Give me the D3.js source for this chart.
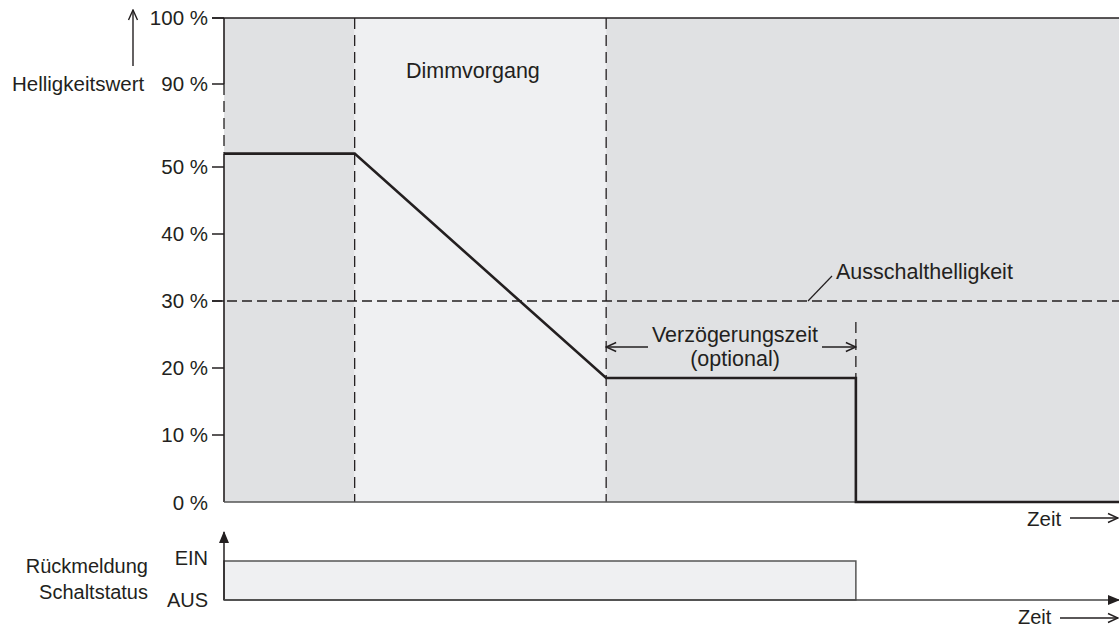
<!DOCTYPE html>
<html>
<head>
<meta charset="utf-8">
<script src="https://cdn.jsdelivr.net/npm/d3@7"></script>
<style>
  html, body { margin: 0; padding: 0; background: #fff; }
  text { font-family: "Liberation Sans", Arial, sans-serif; fill: #231f20; }
</style>
</head>
<body>
<div id="chart"></div>
<script>
// data
var yTicks      = [0, 10, 20, 30, 40, 50, 90, 100];
var yTickLabels = ["0 %", "10 %", "20 %", "30 %", "40 %", "50 %", "90 %", "100 %"];

// phases along time axis (0..100)
var phaseStart = [0, 14.6, 42.7];
var phaseEnd   = [14.6, 42.7, 100];
var phaseKind  = ["on", "dim", "off"];

// brightness curve
var curveTime  = [0, 14.6, 42.7, 70.6, 70.6, 100];
var curveValue = [52, 52, 18.5, 18.5, 0, 0];

var threshold = 30;          // Ausschalthelligkeit
var delayStart = 42.7, delayEnd = 70.6;  // Verzögerungszeit

// switching status feedback
var statusTime  = [0, 70.6];
var statusLevels = ["AUS", "EIN"];

var W = 1119, H = 629;
var ink = "#231f20";
var shade = {on: "#e0e1e3", dim: "#eff0f2", off: "#e0e1e3"};

var svg = d3.select("#chart").append("svg")
    .attr("width", W)
    .attr("height", H);

var x = d3.scaleLinear().domain([0, 100]).range([224, 1119]);
// broken brightness axis: linear up to the start level, then compressed up to 90
var breakAt = curveValue[0];
var perPct = (502 - 167) / 50;
var y = d3.scaleLinear()
    .domain([0, breakAt, 90, 100])
    .range([502, 502 - breakAt * perPct, 84, 18]);
var ys = d3.scalePoint().domain(statusLevels).range([600, 561]);

// markers
var defs = svg.append("defs");
defs.append("marker")
    .attr("id", "open")
    .attr("viewBox", "0 0 12 12")
    .attr("refX", 11).attr("refY", 6)
    .attr("markerWidth", 12).attr("markerHeight", 12)
    .attr("markerUnits", "userSpaceOnUse")
    .attr("orient", "auto-start-reverse")
  .append("path")
    .attr("d", "M1,1.5 L11,6 L1,10.5")
    .attr("fill", "none").attr("stroke", ink).attr("stroke-width", 1.4);
defs.append("marker")
    .attr("id", "solid")
    .attr("viewBox", "0 0 12 12")
    .attr("refX", 11).attr("refY", 6)
    .attr("markerWidth", 12).attr("markerHeight", 12)
    .attr("markerUnits", "userSpaceOnUse")
    .attr("orient", "auto")
  .append("path")
    .attr("d", "M0,1 L12,6 L0,11 Z")
    .attr("fill", ink);

// phase backgrounds
svg.append("g").selectAll("rect")
    .data(phaseKind)
    .enter().append("rect")
    .attr("x", function(d, i) { return x(phaseStart[i]); })
    .attr("width", function(d, i) { return x(phaseEnd[i]) - x(phaseStart[i]); })
    .attr("y", y(100))
    .attr("height", y(0) - y(100))
    .attr("fill", function(d) { return shade[d]; });

// phase boundaries (dashed)
svg.append("g").selectAll("line")
    .data(phaseStart.slice(1))
    .enter().append("line")
    .attr("x1", function(d) { return x(d); })
    .attr("x2", function(d) { return x(d); })
    .attr("y1", y(100)).attr("y2", y(0))
    .attr("stroke", ink).attr("stroke-width", 1.3)
    .attr("stroke-dasharray", "11,6");

// frame: top line + left axis (with break) + bottom
svg.append("line")
    .attr("x1", x(0) - 12).attr("x2", W)
    .attr("y1", y(100)).attr("y2", y(100))
    .attr("stroke", ink).attr("stroke-width", 1.6);
svg.append("line")
    .attr("x1", x(0)).attr("x2", x(0))
    .attr("y1", y(100)).attr("y2", y(90))
    .attr("stroke", ink).attr("stroke-width", 1.6);
svg.append("line")
    .attr("x1", x(0)).attr("x2", x(0))
    .attr("y1", y(90)).attr("y2", y(breakAt))
    .attr("stroke", ink).attr("stroke-width", 1.3)
    .attr("stroke-dasharray", "11,6");
svg.append("line")
    .attr("x1", x(0)).attr("x2", x(0))
    .attr("y1", y(breakAt)).attr("y2", y(0))
    .attr("stroke", ink).attr("stroke-width", 1.6);
svg.append("line")
    .attr("x1", x(0)).attr("x2", W)
    .attr("y1", y(0)).attr("y2", y(0))
    .attr("stroke", "#555").attr("stroke-width", 1.5);

// y ticks and labels
var tick = svg.append("g").selectAll("g")
    .data(yTicks)
    .enter().append("g")
    .attr("transform", function(d) { return "translate(" + x(0) + "," + y(d) + ")"; });
tick.filter(function(d) { return d > 0; }).append("line")
    .attr("x1", -12).attr("x2", 0)
    .attr("stroke", ink).attr("stroke-width", 1.5);
tick.append("text")
    .attr("x", -16)
    .attr("dy", function(d) { return d === 0 ? "0.4em" : "0.36em"; })
    .attr("text-anchor", "end")
    .style("font-size", "20.5px")
    .text(function(d, i) { return yTickLabels[i]; });

// y axis title with arrow
svg.append("line")
    .attr("x1", 133).attr("x2", 133)
    .attr("y1", 66).attr("y2", 10)
    .attr("stroke", ink).attr("stroke-width", 1.4)
    .attr("marker-end", "url(#open)");
svg.append("text")
    .attr("x", 12).attr("y", y(90))
    .attr("dy", "0.36em")
    .style("font-size", "20.5px")
    .text("Helligkeitswert");

// threshold line
svg.append("line")
    .attr("x1", x(0) - 12).attr("x2", W)
    .attr("y1", y(threshold)).attr("y2", y(threshold))
    .attr("stroke", ink).attr("stroke-width", 1.3)
    .attr("stroke-dasharray", "10,5");
svg.append("line")
    .attr("x1", 808).attr("x2", 832)
    .attr("y1", y(threshold)).attr("y2", 276)
    .attr("stroke", ink).attr("stroke-width", 1.2);
svg.append("text")
    .attr("x", 836).attr("y", 279)
    .style("font-size", "21.5px")
    .text("Ausschalthelligkeit");

// phase label
svg.append("text")
    .attr("x", 406).attr("y", 78)
    .style("font-size", "21.5px")
    .text("Dimmvorgang");

// delay dimension
svg.append("line")
    .attr("x1", x(delayEnd)).attr("x2", x(delayEnd))
    .attr("y1", 322).attr("y2", y(curveValue[3]))
    .attr("stroke", ink).attr("stroke-width", 1.3)
    .attr("stroke-dasharray", "11,6");
svg.append("line")
    .attr("x1", 648).attr("x2", x(delayStart))
    .attr("y1", 347).attr("y2", 347)
    .attr("stroke", ink).attr("stroke-width", 1.4)
    .attr("marker-end", "url(#open)");
svg.append("line")
    .attr("x1", 822).attr("x2", x(delayEnd))
    .attr("y1", 347).attr("y2", 347)
    .attr("stroke", ink).attr("stroke-width", 1.4)
    .attr("marker-end", "url(#open)");
svg.append("text")
    .attr("x", (x(delayStart) + x(delayEnd)) / 2 + 4).attr("y", 342)
    .attr("text-anchor", "middle")
    .style("font-size", "21.5px")
    .text("Verzögerungszeit");
svg.append("text")
    .attr("x", (x(delayStart) + x(delayEnd)) / 2 + 4).attr("y", 366)
    .attr("text-anchor", "middle")
    .style("font-size", "21.5px")
    .text("(optional)");

// brightness curve
var line = d3.line()
    .x(function(d) { return x(d[0]); })
    .y(function(d) { return y(d[1]); });
svg.append("path")
    .datum(d3.zip(curveTime, curveValue))
    .attr("d", line)
    .attr("fill", "none")
    .attr("stroke", ink)
    .attr("stroke-width", 2.6)
    .attr("stroke-linejoin", "miter");

// time label top
svg.append("text")
    .attr("x", 1027).attr("y", 526)
    .style("font-size", "20.5px")
    .text("Zeit");
svg.append("line")
    .attr("x1", 1070).attr("x2", W - 1)
    .attr("y1", 518).attr("y2", 518)
    .attr("stroke", ink).attr("stroke-width", 1.3)
    .attr("marker-end", "url(#open)");

// status panel
svg.append("rect")
    .attr("x", x(statusTime[0]))
    .attr("y", ys("EIN"))
    .attr("width", x(statusTime[1]) - x(statusTime[0]))
    .attr("height", ys("AUS") - ys("EIN"))
    .attr("fill", shade.dim)
    .attr("stroke", "#555")
    .attr("stroke-width", 1.5);
svg.append("line")
    .attr("x1", x(0)).attr("x2", x(0))
    .attr("y1", ys("AUS")).attr("y2", 532)
    .attr("stroke", ink).attr("stroke-width", 1.5)
    .attr("marker-end", "url(#solid)");
svg.append("line")
    .attr("x1", x(0)).attr("x2", W)
    .attr("y1", ys("AUS")).attr("y2", ys("AUS"))
    .attr("stroke", "#444").attr("stroke-width", 1.5)
    .attr("marker-end", "url(#solid)");

svg.append("g").selectAll("text")
    .data(statusLevels)
    .enter().append("text")
    .attr("x", 208)
    .attr("y", function(d) { return d === "EIN" ? 565 : 607; })
    .attr("text-anchor", "end")
    .style("font-size", "20px")
    .text(function(d) { return d; });

svg.append("text")
    .attr("x", 148).attr("y", 573)
    .attr("text-anchor", "end")
    .style("font-size", "20px")
    .text("Rückmeldung");
svg.append("text")
    .attr("x", 148).attr("y", 599)
    .attr("text-anchor", "end")
    .style("font-size", "20px")
    .text("Schaltstatus");

// time label bottom
svg.append("text")
    .attr("x", 1018).attr("y", 624)
    .style("font-size", "20px")
    .text("Zeit");
svg.append("line")
    .attr("x1", 1060).attr("x2", W - 1)
    .attr("y1", 618).attr("y2", 618)
    .attr("stroke", ink).attr("stroke-width", 1.3)
    .attr("marker-end", "url(#open)");
</script>
</body>
</html>
